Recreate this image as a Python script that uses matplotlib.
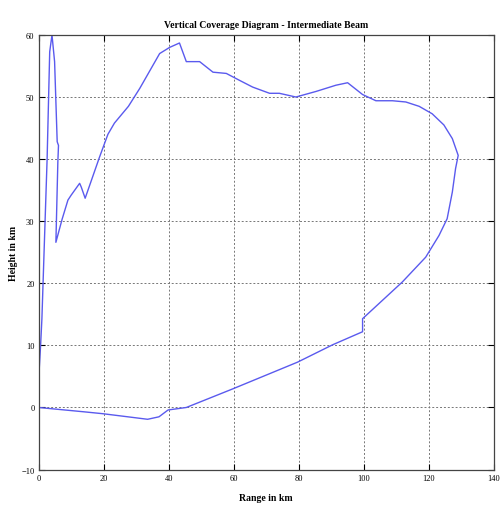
import matplotlib
matplotlib.use("Agg")
import matplotlib.pyplot as plt

# Coverage contour (range km, height km), traced around the lobe
range_km = [0.0, 0.0, 0.6, 1.0, 1.6, 2.6, 3.4, 4.1, 4.9, 5.7, 6.1, 5.9, 5.3,
            7.2, 9.0, 10.0, 12.6, 13.1, 14.3, 18.7, 21.3, 23.3, 27.6, 31.1,
            37.2, 40.3, 43.3, 45.4, 49.5, 53.6, 57.7, 61.7, 65.8, 71.0, 74.0,
            79.1, 85.3, 91.4, 95.0, 99.6, 103.7, 108.8, 112.9, 117.0, 121.0,
            124.6, 127.2, 129.0, 128.2, 127.2, 125.6, 123.1, 119.0, 111.8,
            99.6, 99.6, 90.4, 79.6, 59.7, 45.4, 39.8, 37.0, 33.5, 27.4, 19.7,
            14.0, 6.0, 0.0]
height_km = [0.0, 4.6, 10.0, 14.3, 24.0, 40.0, 57.3, 60.0, 55.7, 42.8, 42.2,
             39.5, 26.6, 30.3, 33.4, 34.2, 36.1, 35.5, 33.7, 40.3, 44.0, 45.8,
             48.5, 51.4, 57.0, 58.0, 58.7, 55.7, 55.7, 54.0, 53.8, 52.7, 51.6,
             50.6, 50.6, 50.0, 50.9, 51.9, 52.3, 50.4, 49.4, 49.4, 49.2, 48.5,
             47.3, 45.5, 43.3, 40.6, 38.5, 34.7, 30.4, 27.7, 24.2, 20.2, 14.3,
             12.2, 10.1, 7.3, 3.0, 0.0, -0.4, -1.5, -1.9, -1.5, -1.0, -0.7,
             -0.3, 0.0]

x_ticks = [0, 20, 40, 60, 80, 100, 120, 140]
y_ticks = [-10, 0, 10, 20, 30, 40, 50, 60]

plt.rcParams['font.family'] = ['Liberation Serif', 'DejaVu Serif']

fig = plt.figure(figsize=(5.02, 5.06), dpi=100)
ax = fig.add_axes([0.077, 0.070, 0.907, 0.859])
ax.plot(range_km, height_km, color='#5a5aee', linewidth=1.0)

ax.set_xlim(0, 140)
ax.set_ylim(-10, 60)
ax.set_xticks(x_ticks)
ax.set_yticks(y_ticks)
ax.tick_params(direction='in', labelsize=6, length=4, width=0.8,
               top=True, right=True, pad=3)
ax.grid(True, color='#777777', linestyle=(0, (2, 2)), linewidth=0.7)
for s in ax.spines.values():
    s.set_linewidth(0.9)
    s.set_color('#444444')

ax.set_title('Vertical Coverage Diagram - Intermediate Beam', fontsize=7,
             fontweight='bold', pad=6)
ax.set_xlabel('Range in km', fontsize=7, fontweight='bold', labelpad=8)
ax.set_ylabel('Height in km', fontsize=7, fontweight='bold', labelpad=2)

fig.savefig('out.png', dpi=100)
